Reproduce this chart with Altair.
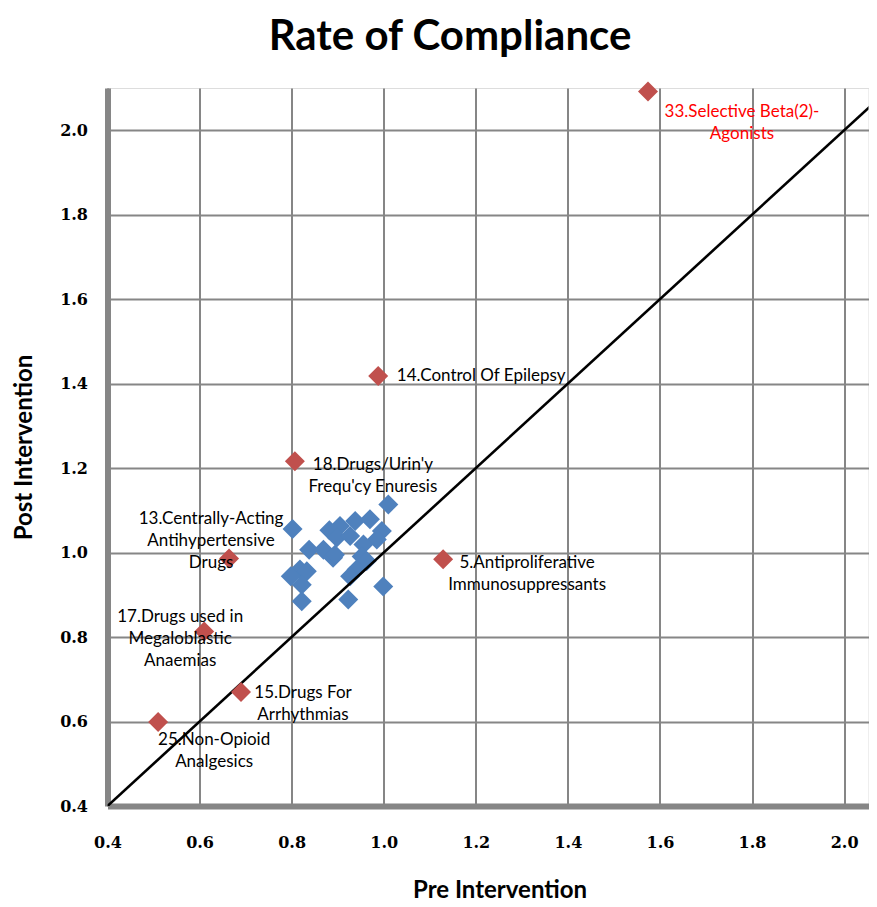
import altair as alt
import pandas as pd

# Blue (unlabelled) drug classes: pre vs post intervention compliance
blue_x = [0.802, 0.882, 0.838, 0.869, 0.890, 0.818, 0.798, 0.833, 0.822, 0.822,
          1.010, 0.938, 0.970, 0.996, 0.905, 0.898, 0.927, 0.985, 0.956, 0.894,
          0.952, 0.963, 0.941, 0.927, 0.999, 0.923]
blue_y = [1.056, 1.053, 1.007, 1.007, 0.988, 0.960, 0.944, 0.956, 0.924, 0.885,
          1.114, 1.075, 1.079, 1.051, 1.063, 1.036, 1.039, 1.031, 1.019, 0.995,
          0.991, 0.980, 0.960, 0.944, 0.920, 0.889]

# Red (labelled) drug classes
red_x = [1.574, 0.988, 0.807, 0.664, 1.129, 0.610, 0.690, 0.510]
red_y = [2.092, 1.418, 1.216, 0.986, 0.984, 0.813, 0.670, 0.599]
red_labels = [
    "33.Selective Beta(2)-\nAgonists",
    "14.Control Of Epilepsy",
    "18.Drugs/Urin'y\nFrequ'cy Enuresis",
    "13.Centrally-Acting\nAntihypertensive\nDrugs",
    "5.Antiproliferative\nImmunosuppressants",
    "17.Drugs used in\nMegaloblastic\nAnaemias",
    "15.Drugs For\nArrhythmias",
    "25.Non-Opioid\nAnalgesics",
]

# Reference line y = x
diag = [0.4, 2.1]

x_ticks = [0.4, 0.6, 0.8, 1.0, 1.2, 1.4, 1.6, 1.8, 2.0]
y_ticks = [0.4, 0.6, 0.8, 1.0, 1.2, 1.4, 1.6, 1.8, 2.0]

blue_df = pd.DataFrame({"pre": blue_x, "post": blue_y})
red_df = pd.DataFrame({"pre": red_x, "post": red_y, "label": red_labels,
                       "idx": list(range(len(red_x)))})
line_df = pd.DataFrame({"pre": diag, "post": diag})

X_MAX = 2.053
xs = alt.Scale(domain=[0.4, X_MAX], nice=False, zero=False)
ys = alt.Scale(domain=[0.4, 2.1], nice=False, zero=False)

grid = "#868686"
x_axis = alt.Axis(values=x_ticks, format=".1f", grid=True, gridColor=grid, gridWidth=2,
                  domainColor=grid, domainWidth=6, ticks=False, labelFlush=False,
                  labelOverlap=False,
                  labelFont="DejaVu Serif", labelFontWeight="bold", labelFontSize=16,
                  labelColor="#000000", labelPadding=28,
                  title="Pre Intervention", titleFont="Lato", titleFontSize=24,
                  titleFontWeight="bold", titleColor="#000000",
                  titleX=392, titleY=84, titleBaseline="middle", titleAlign="center")
y_axis = alt.Axis(values=y_ticks, format=".1f", grid=True, gridColor=grid, gridWidth=2,
                  domainColor=grid, domainWidth=6, ticks=False, labelFlush=False,
                  labelOverlap=False,
                  labelFont="DejaVu Serif", labelFontWeight="bold", labelFontSize=16,
                  labelColor="#000000", labelPadding=20,
                  title="Post Intervention", titleFont="Lato", titleFontSize=24,
                  titleFontWeight="bold", titleColor="#000000",
                  titleX=-83, titleY=359, titleAngle=270, titleBaseline="middle",
                  titleAlign="center")

blue = alt.Chart(blue_df).mark_point(shape="diamond", filled=True, size=400,
                                     color="#4F81BD", opacity=1).encode(
    x=alt.X("pre:Q", scale=xs, axis=x_axis),
    y=alt.Y("post:Q", scale=ys, axis=y_axis),
)

line = alt.Chart(line_df).mark_line(color="#000000", strokeWidth=2.6, clip=True).encode(
    x=alt.X("pre:Q", scale=xs),
    y=alt.Y("post:Q", scale=ys),
)

red = alt.Chart(red_df).mark_point(shape="diamond", filled=True, size=400,
                                   color="#C0504D", opacity=1).encode(
    x=alt.X("pre:Q", scale=xs),
    y=alt.Y("post:Q", scale=ys),
)

# label offsets (pixels) from each point, and colours
offsets = [(94, 21), (103, 0), (78, 4), (-18, -40), (84, 4), (-24, -15), (62, 1), (56, 18)]
colors = ["#FF0000"] + ["#000000"] * 7

label_layers = []
for i, ((dx, dy), col) in enumerate(zip(offsets, colors)):
    label_layers.append(
        alt.Chart(red_df).transform_filter(alt.datum.idx == i).mark_text(
            dx=dx, dy=dy, align="center", baseline="middle", lineBreak="\n",
            lineHeight=22, font="Lato", fontSize=17, color=col,
        ).encode(
            x=alt.X("pre:Q", scale=xs),
            y=alt.Y("post:Q", scale=ys),
            text="label:N",
        )
    )

chart = alt.layer(blue, line, red, *label_layers).properties(
    width=761,
    height=718,
    autosize=alt.AutoSizeParams(type="none"),
    padding={"left": 99.5, "top": 80, "right": 0, "bottom": 100},
    title=alt.TitleParams("Rate of Compliance", font="Lato", fontSize=42,
                          fontWeight="bold", color="#000000", anchor="middle",
                          dx=-38, offset=22),
).configure_view(stroke=None).configure(background="#ffffff")

chart.save("out.html", embed_options={"renderer": "svg", "actions": False})
